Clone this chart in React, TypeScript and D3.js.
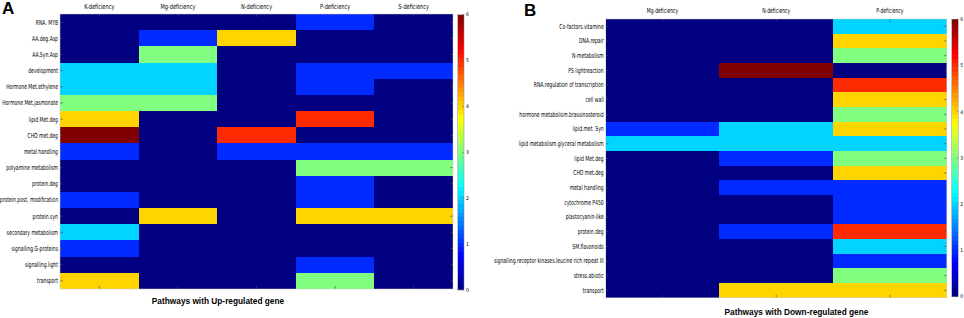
import React from "react";
import * as d3 from "d3";

const colsA = ["K-deficiency", "Mg-deficiency", "N-deficiency", "P-deficiency", "S-deficiency"];
const rowsA = [
  "RNA. MYB", "AA.deg.Asp", "AA.Syn.Asp", "development", "Hormone Met.ethylene",
  "Hormone Met.jasmonate", "lipid Met.deg", "CHO met.deg", "metal handling",
  "polyamine metabolism", "protein.deg", "protein.post. modification", "protein.syn",
  "secondary metabolism", "signalling.G-proteins", "signalling.light", "transport",
];
const valuesA: number[][] = [
  [0, 0, 0, 1, 0],
  [0, 1, 4, 0, 0],
  [0, 3, 0, 0, 0],
  [2, 2, 0, 1, 1],
  [2, 2, 0, 1, 0],
  [3, 3, 0, 0, 0],
  [4, 0, 0, 5, 0],
  [6, 0, 5, 0, 0],
  [1, 0, 1, 1, 1],
  [0, 0, 0, 3, 3],
  [0, 0, 0, 1, 0],
  [1, 0, 0, 1, 0],
  [0, 4, 0, 4, 4],
  [2, 0, 0, 0, 0],
  [1, 0, 0, 0, 0],
  [0, 0, 0, 1, 0],
  [4, 0, 0, 3, 0],
];

const colsB = ["Mg-deficiency", "N-deficiency", "P-deficiency"];
const rowsB = [
  "Co-factors.vitamine", "DNA.repair", "N-metabolism", "PS lightreaction",
  "RNA.regulation of transcription", "cell wall", "hormone metabolism.brassinosteroid",
  "lipid.met. Syn", "lipid metabolism.glyceral metabolism", "lipid Met.deg", "CHO met.deg",
  "metal handling", "cytochrome P450", "plastocyanin-like", "protein.deg", "SM.flavonoids",
  "signalling.receptor kinases.leucine rich repeat III", "stress.abiotic", "transport",
];
const valuesB: number[][] = [
  [0, 0, 2],
  [0, 0, 4],
  [0, 0, 3],
  [0, 6, 0],
  [0, 0, 5],
  [0, 0, 4],
  [0, 0, 3],
  [1, 2, 4],
  [2, 2, 2],
  [0, 1, 3],
  [0, 0, 4],
  [0, 1, 1],
  [0, 0, 1],
  [0, 0, 1],
  [0, 1, 5],
  [0, 0, 2],
  [0, 0, 1],
  [0, 0, 3],
  [0, 4, 4],
];
const colorTicks = [0, 1, 2, 3, 4, 5, 6];

function jet(t: number): string {
  const c = (x: number) => Math.max(0, Math.min(1, x));
  const r = c(Math.min(4 * t - 1.5, -4 * t + 4.5));
  const g = c(Math.min(4 * t - 0.5, -4 * t + 3.5));
  const b = c(Math.min(4 * t + 0.5, -4 * t + 2.5));
  return d3.rgb(r * 255, g * 255, b * 255).formatHex();
}

const FONT = "'Liberation Sans Narrow', 'DejaVu Sans Condensed', Arial, sans-serif";

type PanelProps = {
  letter: string;
  letterX: number;
  letterY: number;
  cols: string[];
  rows: string[];
  values: number[][];
  x0: number; y0: number; w: number; h: number;
  cbX: number; cbW: number; cbY0: number; cbY1: number;
  title: string; titleX: number; titleY: number;
  labelScale: number;
  labelSize: number;
  headerY: number;
  headerScale: number;
};

function Panel(p: PanelProps) {
  const xs = d3.scaleBand<string>().domain(p.cols).range([p.x0, p.x0 + p.w]);
  const ys = d3.scaleBand<string>().domain(p.rows).range([p.y0, p.y0 + p.h]);
  const color = (v: number) => jet(v / 6);
  const cy = d3.scaleLinear().domain([0, 6]).range([p.cbY1, p.cbY0]);
  const steps = d3.range(64);
  const stepH = (p.cbY1 - p.cbY0) / 64;
  return (
    <g>
      <text x={p.letterX} y={p.letterY} fontFamily="Arial, sans-serif" fontWeight="bold" fontSize={17}>{p.letter}</text>
      {p.values.map((row, i) =>
        row.map((v, j) => (
          <rect key={`${i}-${j}`} x={xs(p.cols[j])} y={ys(p.rows[i])} width={xs.bandwidth() + 0.3}
            height={ys.bandwidth() + 0.3} fill={color(v)} shapeRendering="crispEdges" />
        ))
      )}
      {p.cols.map((c) => {
        const cx = (xs(c) as number) + xs.bandwidth() / 2;
        return (
          <g key={c}>
            <line x1={cx} x2={cx} y1={p.y0} y2={p.y0 + 3} stroke="#444" strokeWidth={0.6} />
            <line x1={cx} x2={cx} y1={p.y0 + p.h} y2={p.y0 + p.h - 3} stroke="#444" strokeWidth={0.6} />
            <text x={cx} y={p.headerY} textAnchor="middle" fontFamily={FONT} fontSize={7}
              transform={`translate(${cx},0) scale(${p.headerScale},1) translate(${-cx},0)`}>{c}</text>
          </g>
        );
      })}
      {p.rows.map((r) => {
        const ry = (ys(r) as number) + ys.bandwidth() / 2;
        const lx = p.x0 - 2;
        return (
          <g key={r}>
            <line x1={p.x0} x2={p.x0 + 3} y1={ry} y2={ry} stroke="#444" strokeWidth={0.6} />
            <line x1={p.x0 + p.w} x2={p.x0 + p.w - 3} y1={ry} y2={ry} stroke="#444" strokeWidth={0.6} />
            <text x={lx} y={ry} dy="0.35em" textAnchor="end" fontFamily={FONT} fontSize={p.labelSize}
              transform={`translate(${lx},0) scale(${p.labelScale},1) translate(${-lx},0)`}>{r}</text>
          </g>
        );
      })}
      <rect x={p.x0} y={p.y0} width={p.w} height={p.h} fill="none" stroke="#ccc" strokeWidth={0.5} />
      {steps.map((s) => (
        <rect key={s} x={p.cbX} y={p.cbY1 - (s + 1) * stepH} width={p.cbW} height={stepH + 0.3}
          fill={jet((s + 0.5) / 64)} shapeRendering="crispEdges" />
      ))}
      <rect x={p.cbX} y={p.cbY0} width={p.cbW} height={p.cbY1 - p.cbY0} fill="none" stroke="#888" strokeWidth={0.5} />
      {colorTicks.map((t) => (
        <g key={t}>
          <line x1={p.cbX + p.cbW} x2={p.cbX + p.cbW - 1.5} y1={cy(t)} y2={cy(t)} stroke="#444" strokeWidth={0.5} />
          <text x={p.cbX + p.cbW + 2} y={cy(t)} dy="0.35em" fontFamily={FONT} fontSize={5}>{t}</text>
        </g>
      ))}
      <text x={p.titleX} y={p.titleY} textAnchor="middle" fontFamily="Arial, sans-serif" fontWeight="bold" fontSize={8.3}>{p.title}</text>
    </g>
  );
}

export default function App() {
  return (
    <svg width={964} height={318} style={{ position: "absolute", left: 0, top: 0, background: "#fff" }}>
      <Panel letter="A" letterX={2} letterY={14} cols={colsA} rows={rowsA} values={valuesA}
        x0={60} y0={14} w={393} h={275} cbX={457.5} cbW={6.5} cbY0={14.7} cbY1={290}
        title="Pathways with Up-regulated gene" titleX={218} titleY={304} labelScale={0.72} labelSize={7}
        headerY={9} headerScale={0.8} />
      <Panel letter="B" letterX={524} letterY={16} cols={colsB} rows={rowsB} values={valuesB}
        x0={605.7} y0={19} w={341} h={278.7} cbX={951.7} cbW={6.6} cbY0={19.3} cbY1={296.7}
        title="Pathways with Down-regulated gene" titleX={796.5} titleY={314.5} labelScale={0.72} labelSize={7}
        headerY={13.5} headerScale={0.72} />
    </svg>
  );
}
